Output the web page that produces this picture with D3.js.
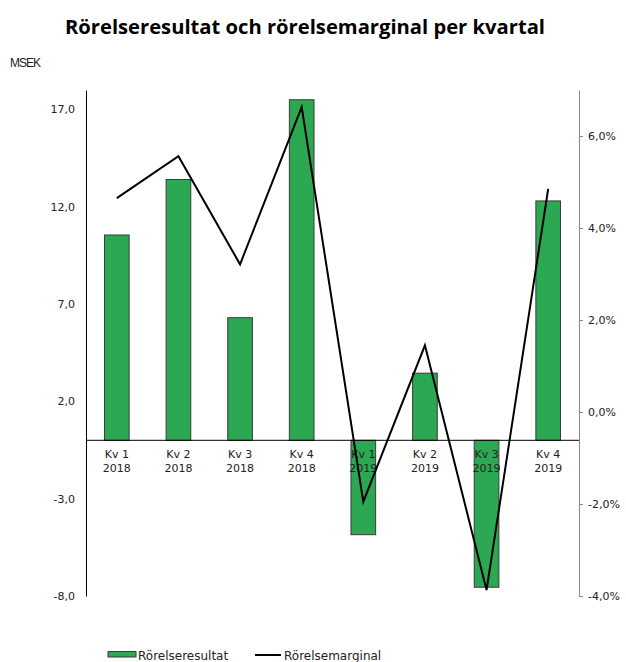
<!DOCTYPE html>
<html><head><meta charset="utf-8">
<script src="https://cdn.jsdelivr.net/npm/d3@7"></script>
<style>body{margin:0;background:#fff;} svg{display:block;}</style>
</head><body>
<svg id="c" width="626" height="662"></svg>
<script>
const categories = ["Kv 1|2018","Kv 2|2018","Kv 3|2018","Kv 4|2018","Kv 1|2019","Kv 2|2019","Kv 3|2019","Kv 4|2019"];
const rorelseresultat = [10.55, 13.4, 6.3, 17.5, -4.85, 3.45, -7.55, 12.3];
const rorelsemarginal = [4.65, 5.56, 3.21, 6.63, -1.95, 1.45, -3.87, 4.85];
const leftTicks = [-8, -3, 2, 7, 12, 17];
const rightTicks = [-4, -2, 0, 2, 4, 6];
const seriesNames = ["Rörelseresultat", "Rörelsemarginal"];
const titleText = "Rörelseresultat och rörelsemarginal per kvartal";
const unitText = "MSEK";

const svg = d3.select("#c");
const L = 86, R = 579, T = 90, B = 596;
const fmt = v => v.toFixed(1).replace(".", ",");

const x = d3.scaleBand().domain(categories).range([L, R]).paddingInner(0.6).paddingOuter(0.3);
const yL = d3.scaleLinear().domain([-8, 18]).range([B, T]);
const yR = d3.scaleLinear().domain([-4, 7]).range([B, T]);

svg.append("text").attr("x", 305).attr("y", 34).attr("text-anchor", "middle")
  .attr("font-family", "Open Sans").attr("font-weight", "bold").attr("font-size", 20.2)
  .attr("fill", "#000").text(titleText);
svg.append("text").attr("x", 10).attr("y", 67).attr("font-family", "Liberation Sans Narrow, Liberation Sans")
  .attr("font-size", 12).attr("letter-spacing", -1).attr("fill", "#222").text(unitText);

// bars
svg.append("g").selectAll("rect").data(rorelseresultat).join("rect")
  .attr("x", (d,i) => x(categories[i]))
  .attr("width", x.bandwidth())
  .attr("y", d => yL(Math.max(0,d)))
  .attr("height", d => Math.abs(yL(d) - yL(0)))
  .attr("fill", "#2ca852").attr("stroke", "#3a3a3a").attr("stroke-width", 1);

// left axis
const gl = svg.append("g").attr("transform", `translate(${L},0)`)
  .call(d3.axisLeft(yL).tickValues(leftTicks).tickFormat(fmt).tickSize(0).tickPadding(11));
gl.select(".domain").attr("stroke", "#000");
gl.selectAll("text").attr("font-family", "DejaVu Sans").attr("font-size", 11).attr("fill", "#222");

// right axis
const gr = svg.append("g").attr("transform", `translate(${R},0)`)
  .call(d3.axisRight(yR).tickValues(rightTicks).tickFormat(d => fmt(d) + "%").tickSize(4).tickSizeOuter(0).tickPadding(5));
gr.select(".domain").attr("stroke", "#888");
gr.selectAll(".tick line").attr("stroke", "#888");
gr.selectAll("text").attr("font-family", "DejaVu Sans").attr("font-size", 11).attr("fill", "#222");

// zero line
svg.append("line").attr("x1", L).attr("x2", R).attr("y1", yL(0)).attr("y2", yL(0))
  .attr("stroke", "#000").attr("stroke-width", 1);

// category labels
const cl = svg.append("g").selectAll("text").data(categories).join("text")
  .attr("x", d => x(d) + x.bandwidth()/2).attr("y", yL(0) + 18)
  .attr("text-anchor", "middle").attr("font-family", "DejaVu Sans").attr("font-size", 11).attr("fill", "#222");
cl.append("tspan").attr("x", d => x(d) + x.bandwidth()/2).text(d => d.split("|")[0]);
cl.append("tspan").attr("x", d => x(d) + x.bandwidth()/2).attr("dy", 14).text(d => d.split("|")[1]);

// line
const line = d3.line().x((d,i) => x(categories[i]) + x.bandwidth()/2).y(d => yR(d));
svg.append("path").datum(rorelsemarginal).attr("d", line)
  .attr("fill", "none").attr("stroke", "#000").attr("stroke-width", 2).attr("stroke-linejoin", "miter");

// legend
const lg = svg.append("g");
lg.append("rect").attr("x", 108).attr("y", 651.5).attr("width", 28).attr("height", 5.5)
  .attr("fill", "#2ca852").attr("stroke", "#3a3a3a").attr("stroke-width", 1);
lg.append("text").attr("x", 138).attr("y", 660).attr("font-family", "DejaVu Sans").attr("font-size", 12)
  .attr("fill", "#222").text(seriesNames[0]);
lg.append("line").attr("x1", 255).attr("x2", 281).attr("y1", 655).attr("y2", 655)
  .attr("stroke", "#000").attr("stroke-width", 2);
lg.append("text").attr("x", 284).attr("y", 660).attr("font-family", "DejaVu Sans").attr("font-size", 12)
  .attr("fill", "#222").text(seriesNames[1]);
</script>
</body></html>
